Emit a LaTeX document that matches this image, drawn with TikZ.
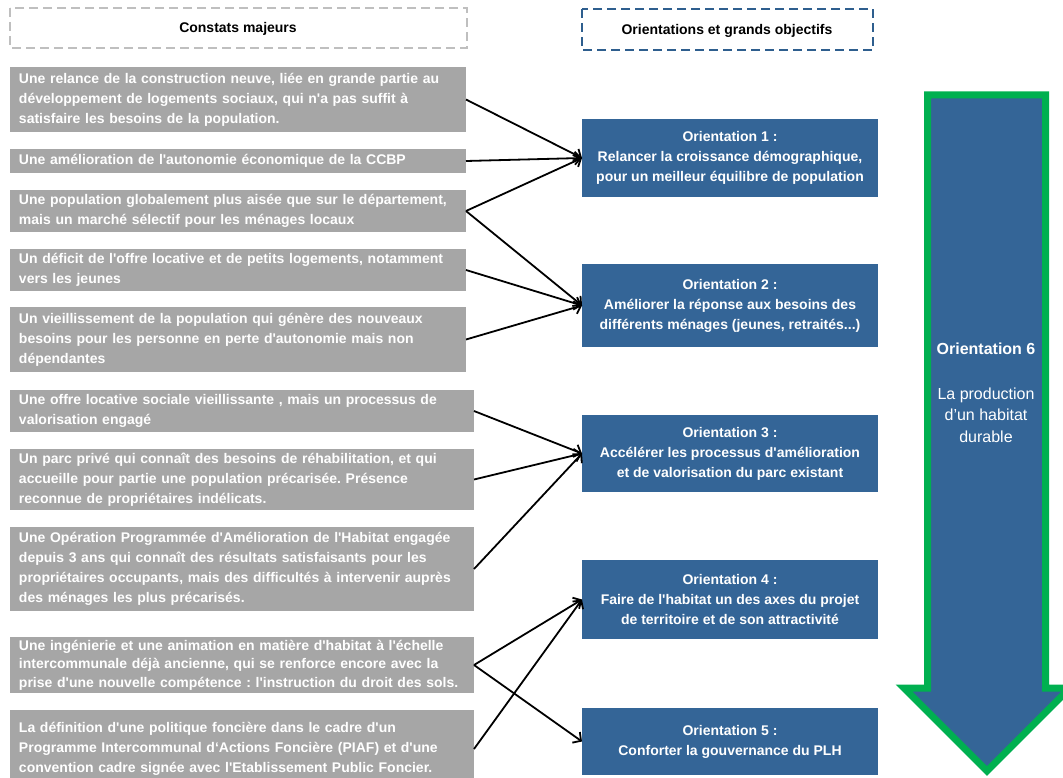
\documentclass[tikz,border=0pt]{standalone}
\usepackage{fontspec}
\setmainfont{Liberation Sans}[Ligatures=TeXOff]
\usetikzlibrary{arrows.meta}
\definecolor{boxgray}{RGB}{166,166,166}
\definecolor{orblue}{RGB}{52,101,151}
\definecolor{hdrblue}{RGB}{46,94,142}
\definecolor{hdrgray}{RGB}{191,191,191}
\definecolor{arrgreen}{RGB}{0,176,80}
\frenchspacing
\tikzset{
  every node/.style={inner sep=0pt, outer sep=0pt},
  gbox/.style={fill=boxgray, text=white, anchor=north west, align=left,
    inner xsep=9pt, font=\bfseries\fontsize{14}{20}\selectfont},
  gnarrow/.style={gbox, minimum width=456pt, text width=438pt},
  gwide/.style={gbox, minimum width=464pt, text width=446pt},
  obox/.style={fill=orblue, text=white, anchor=north west, align=center,
    minimum width=296pt, font=\bfseries\fontsize{14}{20}\selectfont},
  hdr/.style={font=\bfseries\fontsize{14}{17}\selectfont, text=black},
  conn/.style={draw=black, line width=1.8pt,
    -{Straight Barb[length=6pt,width=13pt,line width=1.8pt]}},
  bigarrow/.style={fill=orblue, draw=arrgreen, line width=7pt, line join=miter},
}
\begin{document}
\begin{tikzpicture}[x=1pt,y=-1pt]
\useasboundingbox (0,0) rectangle (1063,778);

% headers
\draw[hdrgray, line width=2.5pt, dash pattern=on 9pt off 5pt] (10,8) rectangle (467,48);
\node[hdr] (h1) at (238,29) {Constats majeurs};
\draw[hdrblue, line width=2.5pt, dash pattern=on 9pt off 5pt] (582,9) rectangle (873,50);
\node[hdr] (h2) at (727,31) {Orientations et grands objectifs};

% left boxes
\node[gnarrow, minimum height=65pt] (b1) at (10,67)
  {Une relance de la construction neuve, liée en grande partie au\\développement de logements sociaux, qui n'a pas suffit à\\satisfaire les besoins de la population.};
\node[gnarrow, minimum height=24pt] (b2) at (10,149)
  {Une amélioration de l'autonomie économique de la CCBP};
\node[gnarrow, minimum height=42pt] (b3) at (10,190)
  {Une population globalement plus aisée que sur le département,\\mais un marché sélectif pour les ménages locaux};
\node[gnarrow, minimum height=42pt] (b4) at (10,249)
  {Un déficit de l'offre locative et de petits logements, notamment\\vers les jeunes};
\node[gnarrow, minimum height=65pt] (b5) at (10,307)
  {Un vieillissement de la population qui génère des nouveaux\\besoins pour les personne en perte d'autonomie mais  non\\dépendantes};
\node[gwide, minimum height=42pt] (b6) at (10,390)
  {Une offre locative sociale vieillissante , mais un processus de\\valorisation engagé};
\node[gwide, minimum height=61pt] (b7) at (10,449)
  {Un parc privé qui connaît des besoins de réhabilitation, et qui\\accueille pour partie une population précarisée. Présence\\reconnue de propriétaires indélicats.};
\node[gwide, minimum height=84pt] (b8) at (10,527)
  {Une Opération Programmée d'Amélioration de l'Habitat engagée\\depuis 3 ans qui connaît des résultats satisfaisants pour les\\propriétaires occupants, mais des difficultés à intervenir auprès\\des ménages les plus précarisés.};
\node[gwide, minimum height=56pt, font=\bfseries\fontsize{14}{18.5}\selectfont] (b9) at (10,637)
  {Une ingénierie et une animation en matière d'habitat à  l'échelle\\intercommunale déjà ancienne,  qui se renforce encore avec la\\prise d'une nouvelle compétence : l'instruction du droit des sols.};
\node[gwide, minimum height=78pt] (b10) at (10,710)
  {La définition d'une politique foncière dans le cadre d'un\\Programme Intercommunal d‘Actions Foncière  (PIAF) et d'une\\convention cadre signée avec l'Etablissement Public Foncier.};

% orientation boxes
\node[obox, minimum height=78pt] (o1) at (582,119)
  {Orientation 1 :\\Relancer la croissance démographique,\\pour un meilleur équilibre de population};
\node[obox, minimum height=83pt] (o2) at (582,264)
  {Orientation 2 :\\Améliorer la  réponse aux besoins des\\différents ménages (jeunes, retraités...)};
\node[obox, minimum height=77pt] (o3) at (582,415)
  {Orientation 3 :\\Accélérer les processus d'amélioration\\et de valorisation du parc existant};
\node[obox, minimum height=79pt] (o4) at (582,560)
  {Orientation 4 :\\Faire de l'habitat un des axes du projet\\de territoire et de son attractivité};
\node[obox, minimum height=67pt] (o5) at (582,708)
  {Orientation 5 :\\Conforter la gouvernance du PLH};

% connectors
\draw[conn] (b1.east) -- (o1.west);
\draw[conn] (b2.east) -- (o1.west);
\draw[conn] (b3.east) -- (o1.west);
\draw[conn] (b3.east) -- (o2.west);
\draw[conn] (b4.east) -- (o2.west);
\draw[conn] (b5.east) -- (o2.west);
\draw[conn] (b6.east) -- (o3.west);
\draw[conn] (b7.east) -- (o3.west);
\draw[conn] (b8.east) -- (o3.west);
\draw[conn] (b9.east) -- (o4.west);
\draw[conn] (b10.east) -- (o4.west);
\draw[conn] (b9.east) -- (o5.west);

% big arrow (orientation 6)
\draw[bigarrow] (927.5,95) -- (1045.5,95) -- (1045.5,688) -- (1070,688)
  -- (987,771) -- (904,688) -- (927.5,688) -- cycle;
\node[font=\bfseries\fontsize{16}{20}\selectfont, text=white] (o6t) at (986,349) {Orientation 6};
\node[font=\fontsize{16}{21.5}\selectfont, text=white, align=center] (o6s) at (986,415)
  {La production\\d’un habitat\\durable};
\end{tikzpicture}
\end{document}
